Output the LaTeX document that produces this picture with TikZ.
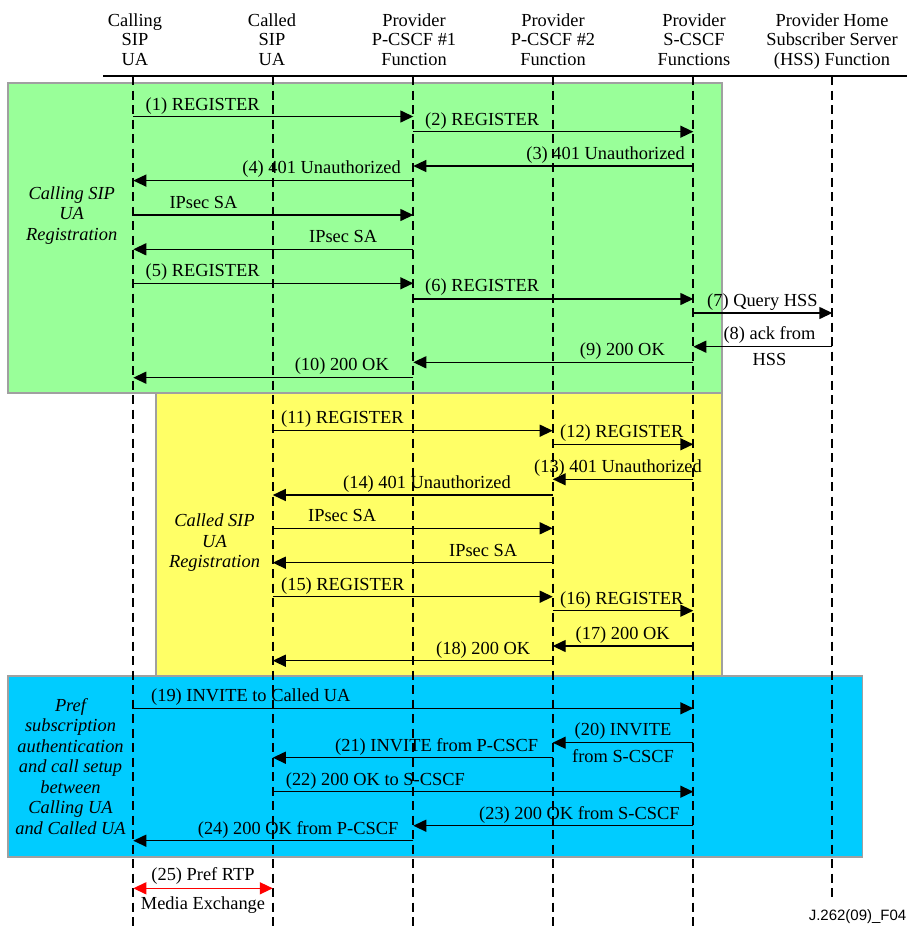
\documentclass[tikz,border=0pt]{standalone}
\usepackage{fontspec}
\setmainfont{Liberation Serif}
\newfontfamily\figsans{Liberation Sans}
\usetikzlibrary{arrows.meta}
\definecolor{regA}{HTML}{99FF99}
\definecolor{regB}{HTML}{FFFF66}
\definecolor{callC}{HTML}{00CCFF}
\definecolor{boxline}{HTML}{A0A0A0}
\newcommand\Msg[3]{\draw[msg] (#1 |- 0,#3) -- (#2 |- 0,#3);}
\begin{document}
\begin{tikzpicture}[x=1pt,y=-1pt,
  every node/.style={inner sep=0pt, font=\fontsize{18.4}{20.5}\selectfont},
  head/.style={align=center, anchor=north, font=\fontsize{18.4}{19.6}\selectfont},
  side/.style={align=center, anchor=north, font=\fontsize{18.4}{20.5}\selectfont\itshape},
  life/.style={line width=2.3pt, dash pattern=on 9pt off 5.5pt},
  msg/.style={line width=1.4pt, -{Triangle[length=13pt,width=12pt]}},
  rtp/.style={red, line width=1.4pt, {Triangle[length=13pt,width=12pt]}-{Triangle[length=13pt,width=12pt]}},
  panel/.style={draw=boxline, line width=1.3pt}]
\useasboundingbox (0,0) rectangle (907,926);
\fill[white] (0,0) rectangle (907,926);

% panels
\path[panel, fill=regA] (8,83) rectangle (722,393);
\path[panel, fill=regB] (156,393) rectangle (722,676);
\path[panel, fill=callC] (8,676) rectangle (862.5,857);

% header
\node[head] (hA) at (135,13.4) {Calling\\SIP\\UA};
\node[head] (hB) at (272,13.4) {Called\\SIP\\UA};
\node[head] (hC) at (414,13.4) {Provider\\P-CSCF \#1\\Function};
\node[head] (hD) at (553,13.4) {Provider\\P-CSCF \#2\\Function};
\node[head] (hE) at (694,13.4) {Provider\\S-CSCF\\Functions};
\node[head] (hF) at (832,13.4) {Provider Home\\Subscriber Server\\(HSS) Function};
\coordinate (hl) at (103,76);
\coordinate (hr) at (907,76);
\draw[line width=1.4pt] (hl) -- (hr);

% lifelines
\coordinate (LA) at (133.3,76);  \coordinate (LAend) at (133.3,926);
\coordinate (LB) at (272.8,76);  \coordinate (LBend) at (272.8,926);
\coordinate (LC) at (413.3,76);  \coordinate (LCend) at (413.3,926);
\coordinate (LD) at (552.7,76);  \coordinate (LDend) at (552.7,926);
\coordinate (LE) at (693.3,76);  \coordinate (LEend) at (693.3,926);
\coordinate (LF) at (832.3,76);  \coordinate (LFend) at (832.3,900);
\foreach \l in {LA,LB,LC,LD,LE,LF} \draw[life] (\l) -- (\l end);

% side labels
\node[side] (sA) at (71.7,186.4) {Calling SIP\\UA\\Registration};
\node[side] (sB) at (214.5,513.9) {Called SIP\\UA\\Registration};
\node[side] (sC) at (70.5,698.1) {Pref\\subscription\\authentication\\and call setup\\between\\Calling UA\\and Called UA};

% calling UA registration
\Msg{LA}{LC}{116.5}
\node[anchor=base west] (m1) at (145.5,110) {(1) REGISTER};
\Msg{LC}{LE}{131.7}
\node[anchor=base west] (m2) at (425,125) {(2) REGISTER};
\Msg{LE}{LC}{166}
\node[anchor=base east] (m3) at (685,159.3) {(3) 401 Unauthorized};
\Msg{LC}{LA}{180.6}
\node[anchor=base east] (m4) at (401,173.8) {(4) 401 Unauthorized};
\Msg{LA}{LC}{215}
\node[anchor=base west] (ip1) at (169.3,208.6) {IPsec SA};
\Msg{LC}{LA}{249.3}
\node[anchor=base west] (ip2) at (309,242.8) {IPsec SA};
\Msg{LA}{LC}{283.3}
\node[anchor=base west] (m5) at (145.5,276.5) {(5) REGISTER};
\Msg{LC}{LE}{299}
\node[anchor=base west] (m6) at (425,291.8) {(6) REGISTER};
\Msg{LE}{LF}{313}
\node[anchor=base west] (m7) at (707,306.5) {(7) Query HSS};
\Msg{LF}{LE}{346.7}
\node[anchor=base] (m8a) at (769.5,339.5) {(8) ack from};
\node[anchor=base] (m8b) at (769.5,365.5) {HSS};
\Msg{LE}{LC}{362.3}
\node[anchor=base east] (m9) at (665,355.3) {(9) 200 OK};
\Msg{LC}{LA}{377.7}
\node[anchor=base east] (m10) at (389,370.6) {(10) 200 OK};

% called UA registration
\Msg{LB}{LD}{430.7}
\node[anchor=base west] (m11) at (281,423.8) {(11) REGISTER};
\Msg{LD}{LE}{444.3}
\node[anchor=base west] (m12) at (560,437.5) {(12) REGISTER};
\Msg{LE}{LD}{479.3}
\node[anchor=base west] (m13) at (534,472.5) {(13) 401 Unauthorized};
\Msg{LD}{LB}{495}
\node[anchor=base east] (m14) at (511,488) {(14) 401 Unauthorized};
\Msg{LB}{LD}{528.3}
\node[anchor=base west] (ip3) at (308,521.5) {IPsec SA};
\Msg{LD}{LB}{562.7}
\node[anchor=base west] (ip4) at (449,556) {IPsec SA};
\Msg{LB}{LD}{596.7}
\node[anchor=base west] (m15) at (281,590) {(15) REGISTER};
\Msg{LD}{LE}{610.7}
\node[anchor=base west] (m16) at (560,604) {(16) REGISTER};
\Msg{LE}{LD}{646}
\node[anchor=base west] (m17) at (575.5,639) {(17) 200 OK};
\Msg{LD}{LB}{660.7}
\node[anchor=base west] (m18) at (436,654) {(18) 200 OK};

% call setup
\Msg{LA}{LE}{708.3}
\node[anchor=base west] (m19) at (151,701.5) {(19) INVITE to Called UA};
\Msg{LE}{LD}{742.7}
\node[anchor=base] (m20a) at (623,735.7) {(20) INVITE};
\node[anchor=base] (m20b) at (623,762.3) {from S-CSCF};
\Msg{LD}{LB}{757.7}
\node[anchor=base east] (m21) at (538.3,751) {(21) INVITE from P-CSCF};
\Msg{LB}{LE}{791.7}
\node[anchor=base west] (m22) at (285.7,785) {(22) 200 OK to S-CSCF};
\Msg{LE}{LC}{825.7}
\node[anchor=base west] (m23) at (479,819) {(23) 200 OK from S-CSCF};
\Msg{LC}{LA}{840.7}
\node[anchor=base west] (m24) at (197.7,834) {(24) 200 OK from P-CSCF};

% media
\draw[rtp] (LA |- 0,888.3) -- (LB |- 0,888.3);
\node[anchor=base] (m25a) at (203,880.7) {(25) Pref RTP};
\node[anchor=base] (m25b) at (203,909.3) {Media Exchange};

\node[anchor=base east, font=\figsans\fontsize{15}{17}\selectfont] (fig) at (906.5,920.5) {J.262(09)\_F04};
\end{tikzpicture}
\end{document}
